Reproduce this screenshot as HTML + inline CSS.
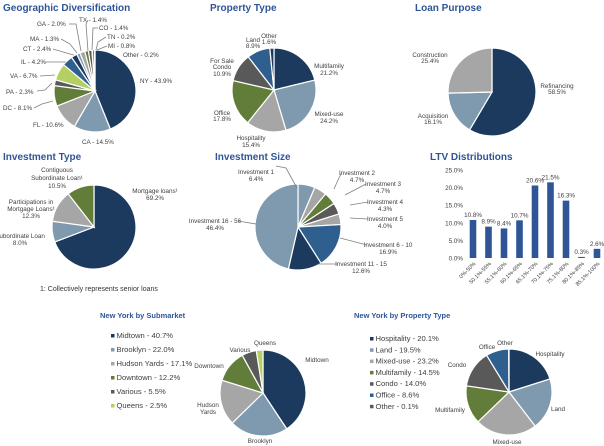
<!DOCTYPE html>
<html><head><meta charset="utf-8"><style>
html,body{margin:0;padding:0;background:#fff;}
svg{display:block;font-family:"Liberation Sans",sans-serif;}
.t{font-weight:bold;fill:#2f5597;font-size:10px;}
.ts{font-weight:bold;fill:#2f5597;font-size:7.5px;}
.l{font-size:6.3px;fill:#404040;}
.lg{font-size:7.6px;fill:#404040;}
.ll{stroke:#7f7f7f;stroke-width:0.8;fill:none;}
</style></head><body>
<svg id="c" width="604" height="446" viewBox="0 0 604 446">
<text class="t" x="3" y="11">Geographic  Diversification</text>
<text class="t" x="210" y="11">Property Type</text>
<text class="t" x="415" y="11">Loan Purpose</text>
<text class="t" x="3" y="160">Investment Type</text>
<text class="t" x="215" y="160">Investment Size</text>
<text class="t" x="430" y="160">LTV Distributions</text>
<text class="ts" x="100" y="318">New York  by Submarket</text>
<text class="ts" x="354" y="318">New York  by Property Type</text>
<text x="40" y="291" style="font-size:7px;fill:#333">1: Collectively represents senior loans</text>
<g id="pies"></g>
<g id="labels">
<!-- geographic -->
<text class="l" x="37" y="26">GA - 2.0%</text><text class="l" x="79" y="22">TX - 1.4%</text>
<text class="l" x="99" y="30">CO - 1.4%</text><text class="l" x="107" y="39">TN - 0.2%</text>
<text class="l" x="108" y="48">MI - 0.8%</text><text class="l" x="123" y="57">Other - 0.2%</text>
<text class="l" x="30" y="41">MA - 1.3%</text><text class="l" x="23" y="51">CT - 2.4%</text>
<text class="l" x="21" y="64">IL - 4.2%</text><text class="l" x="10" y="78">VA - 6.7%</text>
<text class="l" x="6" y="94">PA - 2.3%</text><text class="l" x="3" y="110">DC - 8.1%</text>
<text class="l" x="33" y="127">FL - 10.6%</text><text class="l" x="82" y="144">CA - 14.5%</text>
<text class="l" x="140" y="83">NY - 43.9%</text>
<polyline class="ll" points="69,24 76,24 81,51"/><polyline class="ll" points="88,20 86,24 88,51"/>
<polyline class="ll" points="98,28 93,28 92,50"/><polyline class="ll" points="106,37 98,42 96,50"/>
<polyline class="ll" points="107,46 97,50"/><polyline class="ll" points="61,39 70,44 77,53"/>
<polyline class="ll" points="53,49 70,54 74,55"/><polyline class="ll" points="46,62 66,62"/>
<polyline class="ll" points="40,76 55,75"/><polyline class="ll" points="37,91 45,90 52,83"/>
<polyline class="ll" points="34,108 42,104 53,101"/>
<!-- property -->
<g text-anchor="middle">
<text class="l" x="253" y="42">Land</text><text class="l" x="253" y="48">8.9%</text>
<text class="l" x="269" y="38">Other</text><text class="l" x="269" y="44">1.6%</text>
<text class="l" x="222" y="63">For Sale</text><text class="l" x="222" y="69">Condo</text><text class="l" x="222" y="76">10.9%</text>
<text class="l" x="329" y="68">Multifamily</text><text class="l" x="329" y="75">21.2%</text>
<text class="l" x="222" y="115">Office</text><text class="l" x="222" y="121">17.8%</text>
<text class="l" x="329" y="116">Mixed-use</text><text class="l" x="329" y="123">24.2%</text>
<text class="l" x="251" y="140">Hospitality</text><text class="l" x="251" y="147">15.4%</text>
<!-- loan -->
<text class="l" x="430" y="57">Construction</text><text class="l" x="430" y="63">25.4%</text>
<text class="l" x="557" y="88">Refinancing</text><text class="l" x="557" y="94">58.5%</text>
<text class="l" x="433" y="118">Acquisition</text><text class="l" x="433" y="124">16.1%</text>
<!-- investment type -->
<text class="l" x="57" y="172">Contiguous</text><text class="l" x="57" y="180">Subordinate Loan¹</text><text class="l" x="57" y="188">10.5%</text>
<text class="l" x="155" y="193">Mortgage loans¹</text><text class="l" x="155" y="200">69.2%</text>
<text class="l" x="31" y="204">Participations in</text><text class="l" x="31" y="211">Mortgage Loans¹</text><text class="l" x="31" y="218">12.3%</text>
<text class="l" x="20" y="238">Subordinate Loan</text><text class="l" x="20" y="245">8.0%</text>
<!-- investment size -->
<text class="l" x="256" y="174">Investment 1</text><text class="l" x="256" y="181">6.4%</text>
<text class="l" x="357" y="175">Investment 2</text><text class="l" x="357" y="182">4.7%</text>
<text class="l" x="383" y="186">Investment 3</text><text class="l" x="383" y="193">4.7%</text>
<text class="l" x="385" y="204">Investment 4</text><text class="l" x="385" y="211">4.3%</text>
<text class="l" x="385" y="221">Investment 5</text><text class="l" x="385" y="228">4.0%</text>
<text class="l" x="388" y="247">Investment 6 - 10</text><text class="l" x="388" y="254">16.9%</text>
<text class="l" x="361" y="266">Investment 11 - 15</text><text class="l" x="361" y="273">12.6%</text>
<text class="l" x="215" y="223">Investment 16 - 56</text><text class="l" x="215" y="230">46.4%</text>
<!-- ny submarket -->
<text class="l" x="265" y="345">Queens</text><text class="l" x="240" y="352">Various</text>
<text class="l" x="209" y="368">Downtown</text><text class="l" x="317" y="362">Midtown</text>
<text class="l" x="208" y="407">Hudson</text><text class="l" x="208" y="414">Yards</text>
<text class="l" x="260" y="443">Brooklyn</text>
<!-- ny property -->
<text class="l" x="505" y="345">Other</text><text class="l" x="487" y="349">Office</text>
<text class="l" x="457" y="367">Condo</text><text class="l" x="550" y="356">Hospitality</text>
<text class="l" x="450" y="412">Multifamily</text><text class="l" x="558" y="411">Land</text>
<text class="l" x="507" y="444">Mixed-use</text>
</g>
<polyline class="ll" points="276,166 286,168 297,188"/><polyline class="ll" points="342,172 338,180 334,189"/>
<polyline class="ll" points="366,184 345,195"/><polyline class="ll" points="368,202 350,205"/>
<polyline class="ll" points="368,219 350,218"/><polyline class="ll" points="367,245 340,238"/>
<polyline class="ll" points="338,264 318,264"/><polyline class="ll" points="238,221 256,224"/>
</g>
<g id="legends"></g>
<g id="bars"></g>
</svg>
<script>
const NS="http://www.w3.org/2000/svg";
const C={navy:"#1c3a5e",lb:"#7f9aae",gr:"#a6a6a6",gn:"#627d3a",dg:"#595959",bl:"#2e5f8e",lg:"#b4cf62"};
// pie data
const geoLabels=["NY","CA","FL","DC","PA","VA","IL","CT","MA","GA","TX","CO","TN","MI","Other"];
const geoValues=[43.9,14.5,10.6,8.1,2.3,6.7,4.2,2.4,1.3,2.0,1.4,1.4,0.2,0.8,0.2];
const propLabels=["Multifamily","Mixed-use","Hospitality","Office","For Sale Condo","Land","Other"];
const propValues=[21.2,24.2,15.4,17.8,10.9,8.9,1.6];
const loanLabels=["Refinancing","Acquisition","Construction"];
const loanValues=[58.5,16.1,25.4];
const typeLabels=["Mortgage loans","Subordinate Loan","Participations","Contiguous"];
const typeValues=[69.2,8.0,12.3,10.5];
const sizeLabels=["Investment 1","Investment 2","Investment 3","Investment 4","Investment 5","Investment 6-10","Investment 11-15","Investment 16-56"];
const sizeValues=[6.4,4.7,4.7,4.3,4.0,16.9,12.6,46.4];
const subLabels=["Midtown","Brooklyn","Hudson Yards","Downtown","Various","Queens"];
const subValues=[40.7,22.0,17.1,12.2,5.5,2.5];
const nypLabels=["Hospitality","Land","Mixed-use","Multifamily","Condo","Office","Other"];
const nypValues=[20.1,19.5,23.2,14.5,14.0,8.6,0.1];
// bar data
const ltvCategories=["0%-50%","50.1%-55%","55.1%-60%","60.1%-65%","65.1%-70%","70.1%-75%","75.1%-80%","80.1%-85%","85.1%-100%"];
const ltvValues=[10.8,8.9,8.4,10.7,20.6,21.5,16.3,0.3,2.6];
const ltvTicks=[0,5,10,15,20,25];

const pal7=[C.navy,C.lb,C.gr,C.gn,C.dg,C.bl,C.navy];
function pie(name,cx,cy,r,labels,vals,cols){
  const g=document.createElementNS(NS,"g");
  
  
  const tot=vals.reduce((a,b)=>a+b,0);let a=-Math.PI/2;
  vals.forEach((v,i)=>{
    const b=a+v/tot*2*Math.PI;
    const x1=cx+r*Math.cos(a),y1=cy+r*Math.sin(a),x2=cx+r*Math.cos(b),y2=cy+r*Math.sin(b);
    const p=document.createElementNS(NS,"path");
    p.setAttribute("d",`M${cx},${cy}L${x1},${y1}A${r},${r} 0 ${b-a>Math.PI?1:0} 1 ${x2},${y2}Z`);
    p.setAttribute("fill",cols[i%cols.length]);p.setAttribute("stroke","#fff");p.setAttribute("stroke-width","1.2");
    
    
    g.appendChild(p);a=b;
  });
  document.getElementById("pies").appendChild(g);
}
pie("geographic-pie",95,91,41,geoLabels,geoValues,[C.navy,C.lb,C.gr,C.gn,C.dg,C.lg,C.bl,C.navy,C.lb,C.gr,C.gn,C.dg,C.bl,C.navy,C.lb]);
pie("property-type-pie",274,90,42,propLabels,propValues,pal7);
pie("loan-purpose-pie",492,92,44,loanLabels,loanValues,[C.navy,C.lb,C.gr]);
pie("investment-type-pie",94,227,42,typeLabels,typeValues,[C.navy,C.lb,C.gr,C.gn]);
pie("investment-size-pie",298,227,43,sizeLabels,sizeValues,[C.lb,C.gr,C.gn,C.dg,C.gr,C.bl,C.navy,C.lb]);
pie("ny-submarket-pie",263,393,43,subLabels,subValues,[C.navy,C.lb,C.gr,C.gn,C.dg,C.lg]);
pie("ny-property-pie",509,392,43,nypLabels,nypValues,[C.navy,C.lb,C.gr,C.gn,C.dg,C.bl,C.dg]);

function legend(name,x,y,step,labels,vals,cols){
  const g=document.createElementNS(NS,"g");
  
  
  labels.forEach((l,i)=>{
    const r=document.createElementNS(NS,"rect");
    r.setAttribute("x",x);r.setAttribute("y",y+i*step-4);r.setAttribute("width",3.5);r.setAttribute("height",3.5);r.setAttribute("fill",cols[i]);
    
    
    const t=document.createElementNS(NS,"text");
    t.setAttribute("x",x+5.5);t.setAttribute("y",y+i*step);t.setAttribute("class","lg");
    t.textContent=l+" - "+vals[i].toFixed(1)+"%";
    
    
    g.appendChild(r);g.appendChild(t);
  });
  document.getElementById("legends").appendChild(g);
}
legend("ny-submarket-legend",111,338,14,subLabels,subValues,[C.navy,C.lb,C.gr,C.gn,C.dg,C.lg]);
legend("ny-property-legend",370,341,11.3,nypLabels,nypValues,[C.navy,C.lb,C.gr,C.gn,C.dg,C.bl,C.dg]);

// bar chart
const y0=258,yScale=v=>y0-v*3.52;const xStart=473,xStep=15.5;const xScale=i=>xStart+i*xStep;
const bg=document.getElementById("bars");


ltvTicks.forEach(t=>{
  const e=document.createElementNS(NS,"text");
  e.setAttribute("x",463);e.setAttribute("y",yScale(t)+2.5);e.setAttribute("text-anchor","end");e.setAttribute("class","l");
  e.textContent=t.toFixed(1)+"%";
  
  
  bg.appendChild(e);
});
ltvValues.forEach((v,i)=>{
  const cx=xScale(i);
  const r=document.createElementNS(NS,"rect");
  r.setAttribute("x",cx-3.3);r.setAttribute("y",yScale(v));r.setAttribute("width",6.6);r.setAttribute("height",Math.max(0.6,y0-yScale(v)));r.setAttribute("fill","#2f5597");
  
  
  bg.appendChild(r);
  const t=document.createElementNS(NS,"text");
  t.setAttribute("x",cx);t.setAttribute("y",yScale(v)-3);t.setAttribute("text-anchor","middle");t.setAttribute("class","l");
  t.textContent=v.toFixed(1)+"%";
  
  
  bg.appendChild(t);
  const c=document.createElementNS(NS,"text");
  c.setAttribute("transform",`translate(${cx+3},${y0+6}) rotate(-45)`);c.setAttribute("text-anchor","end");c.setAttribute("class","l");c.setAttribute("style","font-size:5.5px");
  c.textContent=ltvCategories[i];
  
  
  bg.appendChild(c);
});
</script>
</body></html>
